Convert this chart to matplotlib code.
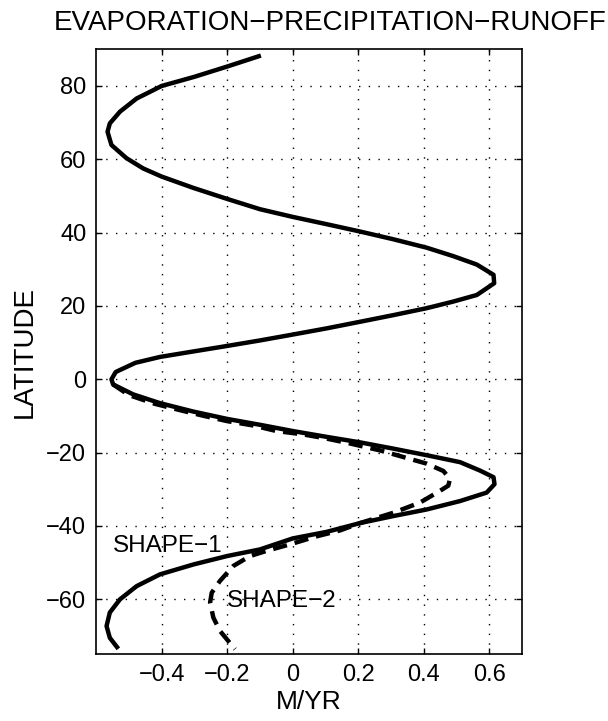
import matplotlib
matplotlib.use("Agg")
import matplotlib.pyplot as plt

# shape-1: latitude (deg) and E-P-R (m/yr), traced north to south
lat_shape1 = [88.3, 85.3, 82.5, 80.0, 78.2, 76.6, 73.0, 69.8, 67.5, 63.9, 60.3,
              57.5, 55.3, 52.2, 49.2, 46.4, 44.3, 42.3, 40.3, 38.2, 35.9,
              33.6, 31.3, 28.5, 26.2, 23.0, 21.2, 19.4, 17.5, 15.7, 13.9,
              12.2, 10.6, 9.1, 7.6, 6.1, 4.5, 2.0, 0.0, -1.4, -4.1,
              -6.5, -8.8, -10.8, -12.4, -14.1, -15.7, -17.2, -18.9, -20.7, -22.6,
              -24.9, -26.7, -28.6, -30.9, -33.2, -35.5, -37.3, -39.2, -41.6, -43.4,
              -46.4, -48.2, -50.5, -53.2, -56.4, -60.0, -63.6, -67.3, -70.5, -73.5]
epr_shape1 = [-0.097, -0.20, -0.30, -0.40, -0.44, -0.476, -0.527, -0.558, -0.565, -0.553, -0.507,
              -0.456, -0.40, -0.303, -0.20, -0.10, 0.0, 0.104, 0.206, 0.307, 0.409,
              0.49, 0.562, 0.613, 0.615, 0.562, 0.49, 0.409, 0.307, 0.206, 0.104,
              0.0, -0.10, -0.20, -0.303, -0.405, -0.48, -0.54, -0.553, -0.548, -0.487,
              -0.405, -0.303, -0.20, -0.10, 0.0, 0.104, 0.206, 0.307, 0.409, 0.511,
              0.572, 0.613, 0.616, 0.592, 0.511, 0.409, 0.307, 0.206, 0.104, 0.0,
              -0.10, -0.20, -0.303, -0.405, -0.476, -0.527, -0.558, -0.568, -0.558, -0.532]

# shape-2 differs only south of the equator
lat_shape2 = [-1.4, -4.3, -6.7, -8.5, -10.0, -11.4, -12.6, -14.1, -15.0, -16.1,
              -17.5, -19.4, -21.2, -23.0, -25.0, -27.2, -29.0, -30.4, -33.6, -36.4,
              -39.2, -41.2, -42.9, -44.8, -46.8, -48.2, -50.9, -55.0, -58.2, -60.9,
              -65.0, -68.6, -73.6]
epr_shape2 = [-0.548, -0.50, -0.42, -0.34, -0.27, -0.20, -0.12, -0.05, 0.03, 0.10,
              0.175, 0.267, 0.338, 0.409, 0.46, 0.48, 0.475, 0.45, 0.389, 0.307,
              0.206, 0.145, 0.07, 0.0, -0.08, -0.13, -0.181, -0.222, -0.247, -0.252,
              -0.242, -0.222, -0.176]

xticks = [-0.4, -0.2, 0, 0.2, 0.4, 0.6]
xticklabels = ["\u22120.4", "\u22120.2", "0", "0.2", "0.4", "0.6"]
yticks = [-60, -40, -20, 0, 20, 40, 60, 80]
yticklabels = ["\u221260", "\u221240", "\u221220", "0", "20", "40", "60", "80"]

plt.rcParams["font.family"] = ["Liberation Sans", "DejaVu Sans"]

fig = plt.figure(figsize=(6.08, 7.21), dpi=100)
ax = fig.add_axes([0.158, 0.0925, 0.7006, 0.8391])

ax.plot(epr_shape1, lat_shape1, color="black", lw=3.2,
        solid_joinstyle="round", solid_capstyle="butt")
ax.plot(epr_shape2, lat_shape2, color="black", lw=3.2, dashes=(3.2, 1.8))

ax.set_xlim(-0.6, 0.7)
ax.set_ylim(-75, 90)
ax.set_xticks(xticks)
ax.set_xticklabels(xticklabels)
ax.set_yticks(yticks)
ax.set_yticklabels(yticklabels)
ax.tick_params(direction="in", length=4, width=1, labelsize=17,
               top=True, right=True, pad=7)
ax.grid(True, color="black", lw=1, linestyle=(0, (1, 6)))
for s in ax.spines.values():
    s.set_linewidth(1.2)

ax.text(-0.548, -45.5, "SHAPE\u22121", fontsize=17.5, va="center", ha="left")
ax.text(-0.2, -60.5, "SHAPE\u22122", fontsize=17.5, va="center", ha="left")

ax.set_xlabel("M/YR", fontsize=19, labelpad=3)
ax.set_ylabel("LATITUDE", fontsize=20, labelpad=6)
fig.text(0.543, 0.968, "EVAPORATION\u2212PRECIPITATION\u2212RUNOFF",
         fontsize=20, ha="center", va="center")

fig.savefig("out.png", dpi=100)
